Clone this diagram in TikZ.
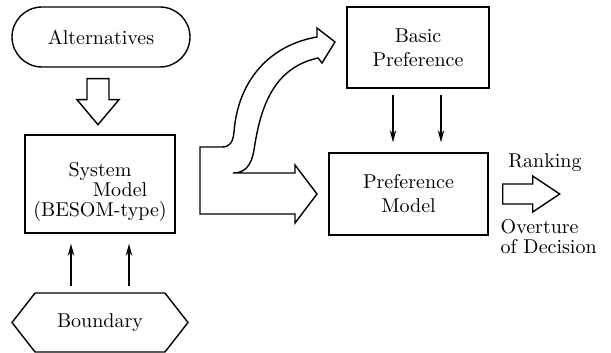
\documentclass[tikz,border=0pt]{standalone}
\usepackage{tikz}
\usetikzlibrary{calc,arrows.meta,shapes.symbols}

\begin{document}
\begin{tikzpicture}[x=0.5pt,y=-0.5pt,line width=0.7pt]

      \useasboundingbox (0,0) rectangle (611,353);

      \begin{scope}[every node/.style={draw,inner sep=2pt}]
        \node[rectangle,rounded corners=15pt,minimum width=89pt,minimum height=30pt] (alt) at (101,37) {Alternatives};
        \node[minimum width=75pt,minimum height=49pt,align=center,font=\fontsize{10}{10}\selectfont] (sys) at (100,184)
          {\rule{0pt}{15pt}System\\\hspace*{2em}Model\\(BESOM-type)};
        \node[signal,signal to=west and east,signal pointer angle=104,minimum width=88pt,minimum height=29.5pt] (bnd) at (100,322.5) {Boundary};
        \node[minimum width=71pt,minimum height=40.5pt,align=center] (basic) at (418,47.5) {Basic\\Preference};
        \node[minimum width=79.5pt,minimum height=41pt,align=center] (pref) at (408.5,194) {Preference\\Model};
      \end{scope}

      \begin{scope}[every node/.style={inner sep=1pt}]
        \node (rank) at (545,163) {Ranking};
        \node[anchor=west,align=left,font=\fontsize{10}{10}\selectfont] (over) at (498,237) {Overture\\of Decision};
      \end{scope}

      % thin arrows
      \coordinate (s1) at ($(sys.south)+(-29,0)$);
      \coordinate (s2) at ($(sys.south)+(29,0)$);
      \coordinate (b1) at ($(basic.south)+(-25,0)$);
      \coordinate (b2) at ($(basic.south)+(23,0)$);

      \begin{scope}[-{Stealth[length=6pt,width=3.2pt]},shorten <=3pt,shorten >=5pt]
        \draw (s1 |- bnd.north) -- (s1);
        \draw (s2 |- bnd.north) -- (s2);
        \draw (b1) -- (b1 |- pref.north);
        \draw (b2) -- (b2 |- pref.north);
      \end{scope}

      % hollow arrows
      \begin{scope}[fill=white,line join=miter]
        \draw ($(alt.south)+(-14,11)$) -- ++(22,0) -- ++(0,21) -- ++(10,0) -- ++(-21,25)
          -- ++(-21,-25) -- ++(10,0) -- cycle;
        \draw ($(pref.east)+(14,-10)$) -- ++(30,0) -- ++(0,-8) -- ++(27,18) -- ++(-27,18)
          -- ++(0,-8) -- ++(-30,0) -- cycle;
        \draw (200,214) -- (200,147) -- (222,147) .. controls (230,147) and (233,142) .. (234,132)
          .. controls (238,80) and (270,45) .. (317,37) -- (317,28) -- (335,42) -- (322,63) -- (318,58)
          .. controls (272,68) and (260,110) .. (254,150) .. controls (251,168) and (243,173) .. (233,173)
          -- (295,173) -- (295,165) -- (317,194) -- (295,223) -- (295,214) -- cycle;
      \end{scope}

    \end{tikzpicture}
\end{document}
